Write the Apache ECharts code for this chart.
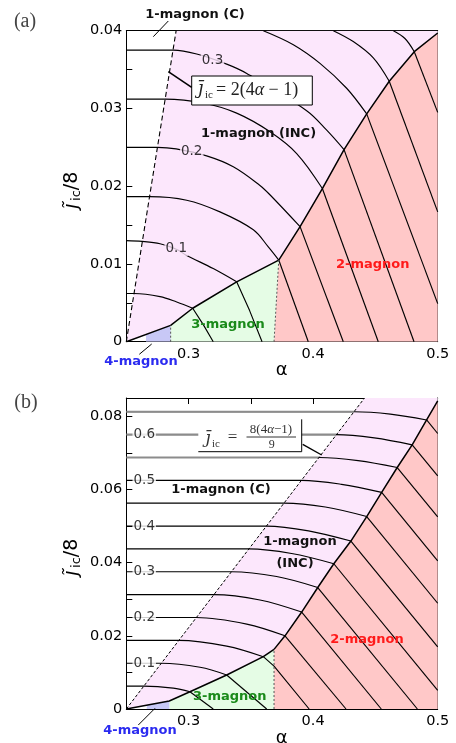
<!DOCTYPE html>
<html><head><meta charset="utf-8">
<script src="https://cdn.jsdelivr.net/npm/echarts@6/dist/echarts.min.js"></script>
<style>html,body{margin:0;padding:0;background:#fff}#c{width:456px;height:743px}</style>
</head><body><div id="c"></div>
<script>
// ---------------- axes ----------------
const X_MIN = 0.25, X_MAX = 0.5, X_STEP = 0.05;
const YA_MAX = 0.04, YA_STEP = 0.005;
const YB_MAX = 0.085, YB_STEP = 0.01;

// ---------------- panel (a) ----------------
const A_dashed = [[0.25,0],[0.29,0.04]];
const A_bnd2 = [[0.3724,0.0105],[0.3895,0.0148],[0.4074,0.0197],[0.4248,0.0247],[0.4430,0.0293],[0.4611,0.0335],[0.4812,0.0373],[0.5,0.0397]];
const A_bnd3 = [[0.25,0],[0.2856,0.0021],[0.3033,0.0043],[0.3386,0.0077],[0.3724,0.0105]];
const A_dot32 = [[0.3686,0],[0.3724,0.0105]];
const A_dot43 = [[0.2856,0],[0.2856,0.0021]];
const A_blue = [[0.2658,0],[0.2658,0.0009],[0.2856,0.0021],[0.2856,0]];

const A_c05 = [[0.25,0.0062],[0.2563,0.0062],[0.2771,0.0058],[0.2905,0.0051],[0.3033,0.0043]];
const A_t05 = [[0.3033,0.0043],[0.3118,0.0022],[0.3198,0]];
const A_c10 = [[0.25,0.0130],[0.2626,0.0129],[0.2771,0.0126],[0.2901,0.0119],[0.2985,0.0111],[0.3198,0.0094],[0.3386,0.0077]];
const A_t10 = [[0.3386,0.0077],[0.3490,0.0040],[0.3590,0]];
const A_c15 = [[0.25,0.01865],[0.2687,0.01865],[0.2985,0.0182],[0.3252,0.0167],[0.3520,0.0144],[0.3640,0.0122],[0.3724,0.0105]];
const A_t15 = [[0.3724,0.0105],[0.3961,0]];
const A_c20 = [[0.25,0.0250],[0.2750,0.0250],[0.2900,0.0248],[0.3145,0.0239],[0.3359,0.0225],[0.3573,0.0201],[0.3653,0.0189],[0.3895,0.0148]];
const A_t20 = [[0.3895,0.0148],[0.4242,0]];
const A_c25 = [[0.25,0.0312],[0.2812,0.0312],[0.3118,0.0307],[0.3386,0.0294],[0.3654,0.0270],[0.3868,0.0242],[0.4074,0.0197]];
const A_t25 = [[0.4074,0.0197],[0.4523,0]];
const A_c30 = [[0.25,0.0375],[0.2877,0.0375],[0.3065,0.0370],[0.3306,0.0357],[0.3467,0.0345],[0.3948,0.0297],[0.4109,0.0272],[0.4248,0.0247]];
const A_t30 = [[0.4248,0.0247],[0.4810,0]];
const A_c35 = [[0.3600,0.0400],[0.3841,0.0382],[0.4055,0.0358],[0.4269,0.0326],[0.4430,0.0293]];
const A_t35 = [[0.4430,0.0293],[0.5,0.0049]];
const A_c40 = [[0.4162,0.0400],[0.4322,0.0386],[0.4483,0.0365],[0.4611,0.0335]];
const A_t40 = [[0.4611,0.0335],[0.5,0.0167]];
const A_c45 = [[0.4644,0.0400],[0.4737,0.0390],[0.4812,0.0373]];
const A_t45 = [[0.4812,0.0373],[0.5,0.0295]];

const A_lblText = ['0.1','0.2','0.3'];
const A_lblPos = [[0.2901,0.0120],[0.3025,0.0244],[0.3192,0.0362]];

// ---------------- panel (b) ----------------
const B_dashed = [[0.25,0],[0.44125,0.085]];
const B_bnd2 = [[0.3686,0.0163],[0.3774,0.0200],[0.3908,0.0265],[0.4037,0.0332],[0.4166,0.0397],[0.4303,0.0459],[0.4430,0.0526],[0.4550,0.0592],[0.4675,0.0660],[0.4795,0.0722],[0.4911,0.0790],[0.5,0.0842]];
const B_bnd3 = [[0.25,0],[0.2845,0.0022],[0.3011,0.0047],[0.3306,0.0093],[0.3600,0.0143],[0.3686,0.0163]];
const B_dot32 = [[0.3686,0],[0.3686,0.0163]];
const B_blue = [[0.2664,0],[0.2664,0.0010],[0.2845,0.0022],[0.2845,0]];

const B_c05 = [[0.25,0.00625],[0.2641,0.00625],[0.2877,0.0057],[0.3011,0.0047]];
const B_t05 = [[0.3011,0.0047],[0.3198,0]];
const B_c10 = [[0.25,0.0125],[0.2781,0.0125],[0.3092,0.0114],[0.3306,0.0093]];
const B_t10 = [[0.3306,0.0093],[0.3627,0]];
const B_c15 = [[0.25,0.01875],[0.2922,0.01875],[0.3306,0.0172],[0.3600,0.0143]];
const B_t15 = [[0.3600,0.0143],[0.3686,0.0117],[0.3968,0]];
const B_c20 = [[0.25,0.025],[0.3063,0.025],[0.3467,0.0232],[0.3774,0.0200]];
const B_t20 = [[0.3774,0.0200],[0.4264,0]];
const B_c25 = [[0.25,0.03125],[0.3203,0.03125],[0.3573,0.0298],[0.3908,0.0265]];
const B_t25 = [[0.3908,0.0265],[0.4547,0]];
const B_c30 = [[0.25,0.0375],[0.3344,0.0375],[0.3707,0.0362],[0.4037,0.0332]];
const B_t30 = [[0.4037,0.0332],[0.4837,0]];
const B_c35 = [[0.25,0.04375],[0.3484,0.04375],[0.3827,0.0425],[0.4166,0.0397]];
const B_t35 = [[0.4166,0.0397],[0.5,0.0051]];
const B_c40 = [[0.25,0.05],[0.3625,0.05],[0.3963,0.0487],[0.4303,0.0459]];
const B_t40 = [[0.4303,0.0459],[0.5,0.0170]];
const B_c45 = [[0.25,0.05625],[0.3766,0.05625],[0.4098,0.0552],[0.4430,0.0526]];
const B_t45 = [[0.4430,0.0526],[0.5,0.0289]];
const B_c50 = [[0.25,0.0625],[0.3906,0.0625],[0.4228,0.0614],[0.4550,0.0592]];
const B_t50 = [[0.4550,0.0592],[0.5,0.0405]];
const B_c55 = [[0.25,0.06875],[0.4047,0.06875],[0.4361,0.0679],[0.4675,0.0660]];
const B_t55 = [[0.4675,0.0660],[0.5,0.0525]];
const B_c60 = [[0.25,0.075],[0.41875,0.075],[0.4491,0.0741],[0.4795,0.0722]];
const B_t60 = [[0.4795,0.0722],[0.5,0.0637]];
const B_c65 = [[0.25,0.08125],[0.4328,0.08125],[0.4620,0.0806],[0.4911,0.0790]];
const B_t65 = [[0.4911,0.0790],[0.5,0.0753]];
const B_gray = [B_c55.slice(0,2), B_c60.slice(0,2), B_c65.slice(0,2)];

const B_lblText = ['0.1','0.2','0.3','0.4','0.5','0.6'];
const B_lblPos = [[0.2644,0.0125],[0.2644,0.025],[0.2644,0.0375],[0.2644,0.05],[0.2644,0.0625],[0.2644,0.075]];

// ---------------- styles ----------------
const C_INC = '#fce7fc', C_2 = '#ffc8c8', C_3 = '#e5fce5', C_4 = '#c8c8f6';
const SANS = 'DejaVu Sans', SERIF = 'Liberation Serif';
const W_C = 1.15, W_B = 1.5;

function poly(pts, color, gi) {
  return {type:'custom', coordinateSystem:'cartesian2d', xAxisIndex:gi*2, yAxisIndex:gi*2,
    silent:true, z:1, data:[pts[0]], clip:true,
    renderItem: (params, api) => ({type:'polygon', shape:{points: pts.map(p => api.coord(p))},
      style:{fill: color, stroke: null}})};
}
function line(pts, gi, width, opts) {
  const o = opts || {};
  return {type:'line', xAxisIndex:gi*2, yAxisIndex:gi*2, data:pts, symbol:'none', silent:true,
    smooth: o.smooth || false, z: o.z || 2, clip: true,
    lineStyle:{color: o.color || '#000', width: width, type: o.type || 'solid', cap:'butt'}};
}
function labels(texts, pos, gi, bg) {
  return {type:'scatter', xAxisIndex:gi*2, yAxisIndex:gi*2, symbolSize:1, silent:true, z:6,
    itemStyle:{color:'rgba(0,0,0,0)'},
    data: pos.map((p,i) => ({value:p, name:texts[i]})),
    label:{show:true, position:'inside', formatter:'{b}', fontFamily:SANS, fontSize:13.5, color:'#000',
      backgroundColor:bg, padding:[1,1,0,1]}};
}
function rev(a){ return a.slice().reverse(); }

const series = [];
// fills (a)
series.push(poly([].concat(A_dashed, [[X_MAX,YA_MAX]], rev(A_bnd2), rev(A_bnd3)), C_INC, 0));
series.push(poly([].concat(A_bnd2, [[X_MAX,0]], [A_dot32[0]]), C_2, 0));
series.push(poly([].concat(A_dot43, A_bnd3.slice(2), [A_dot32[0]]), C_3, 0));
series.push(poly(A_blue, C_4, 0));
// fills (b)
series.push(poly([].concat(B_dashed, [[X_MAX,YB_MAX]], rev(B_bnd2), rev(B_bnd3)), C_INC, 1));
series.push(poly([].concat(B_bnd2, [[X_MAX,0]], [B_dot32[0]]), C_2, 1));
series.push(poly([].concat([[0.2845,0]], B_bnd3.slice(1), [B_dot32[0]]), C_3, 1));
series.push(poly(B_blue, C_4, 1));

// contours (a)
[A_c05,A_c10,A_c15,A_c20,A_c25,A_c30,A_c35,A_c40,A_c45].forEach(c => series.push(line(c, 0, W_C, {smooth:0.35})));
[A_t05,A_t10,A_t15,A_t20,A_t25,A_t30,A_t35,A_t40,A_t45].forEach(c => series.push(line(c, 0, W_C)));
// contours (b)
[B_c05,B_c10,B_c15,B_c20,B_c25,B_c30,B_c35,B_c40,B_c45,B_c50,B_c55,B_c60,B_c65].forEach(c => series.push(line(c, 1, W_C, {smooth:0.35})));
[B_t05,B_t10,B_t15,B_t20,B_t25,B_t30,B_t35,B_t40,B_t45,B_t50,B_t55,B_t60,B_t65].forEach(c => series.push(line(c, 1, W_C)));
B_gray.forEach(c => series.push(line(c, 1, 2, {color:'#8c8c8c', z:3})));

// boundaries
series.push(line(A_bnd2, 0, W_B, {z:4}));
series.push(line(A_bnd3, 0, W_B, {z:4}));
series.push(line(A_dot32, 0, 1, {z:4, type:[2,2], color:'#555'}));
series.push(line(A_dot43, 0, 1, {z:4, type:[2,2], color:'#555'}));
series.push(line(A_dashed, 0, 1.1, {z:4, type:[5,3]}));
series.push(line(B_bnd2, 1, W_B, {z:4}));
series.push(line(B_bnd3, 1, W_B, {z:4}));
series.push(line(B_dot32, 1, 1, {z:4, type:[2,2], color:'#555'}));
series.push(line(B_dashed, 1, 1, {z:4, type:[3,2]}));

series.push(labels(A_lblText, A_lblPos, 0, C_INC));
series.push(labels(B_lblText, B_lblPos, 1, '#fff'));

// ---------------- axes ----------------
const near = (v, s) => Math.abs(v/s - Math.round(v/s)) < 1e-6;
function xAx(gi, pos) {
  return {type:'value', gridIndex:gi, position:pos, min:X_MIN, max:X_MAX, interval:X_STEP,
    axisLine:{show:true, onZero:false, lineStyle:{color:'#000', width:1}},
    axisTick:{show:true, inside:true, length:6, lineStyle:{color:'#000', width:1}},
    splitLine:{show:false},
    axisLabel:{show: pos === 'bottom', margin:5, color:'#000', fontFamily:SANS, fontSize:14.5,
      formatter: v => near(v, 0.1) ? v.toFixed(1) : ''}};
}
function yAx(gi, pos, max, step, lblStep) {
  return {type:'value', gridIndex:gi, position:pos, min:0, max:max, interval:step,
    axisLine:{show:true, onZero:false, lineStyle:{color:'#000', width:1}},
    axisTick:{show:true, inside:true, length:6, lineStyle:{color:'#000', width:1}},
    splitLine:{show:false},
    axisLabel:{show: pos === 'left', margin:4, color:'#000', fontFamily:SANS, fontSize:14.5,
      formatter: v => (Math.abs(v) < 1e-12 ? '0' : (near(v, lblStep) ? v.toFixed(2) : ''))}};
}

// ---------------- annotations ----------------
const bold = (t, x, y, color) => ({type:'text', x:x, y:y, z:50,
  style:{text:t, fontFamily:SANS, fontWeight:'bold', fontSize:13, fill:color, align:'center', verticalAlign:'middle'}});
const txt = (t, x, y, size, fam, extra) => ({type:'text', x:x, y:y, z:50,
  style:Object.assign({text:t, fontFamily:fam, fontSize:size, fill:'#000', align:'center', verticalAlign:'middle'}, extra||{})});
const seg = (x1,y1,x2,y2,w) => ({type:'line', z:50, shape:{x1,y1,x2,y2}, style:{stroke:'#000', lineWidth:w||1}});
function yName(cx, cy) {
  return {type:'group', x:cx, y:cy, rotation:Math.PI/2, z:50, children:[
    txt('\u0237\u0303', -13, 0, 19, SANS, {fontStyle:'italic'}),
    txt('ic', -2.5, 5, 13, SANS),
    txt('/8', 12, 0, 19, SANS)
  ]};
}
const rich = {i:{fontFamily:SERIF, fontStyle:'italic', fontSize:18, fill:'#222'}, n:{fontFamily:SERIF, fontSize:18, fill:'#222'}};
const graphic = [
  // panel (a)
  txt('(a)', 25, 22, 20, SERIF, {fill:'#444'}),
  bold('1-magnon (C)', 195, 15, '#111'),
  seg(168.3, 21, 153.3, 36.7),
  {type:'rect', z:49, shape:{x:191.7, y:76, width:120.6, height:29}, style:{fill:'#fff', stroke:'#000', lineWidth:1}},
  txt('\u0237\u0304', 200.5, 89, 18, 'DejaVu Serif', {fontStyle:'italic', fill:'#222'}),
  txt('ic', 209, 95, 11, SERIF, {fill:'#222'}),
  {type:'text', x:216, y:90, z:50, style:{text:'{n|= 2(4}{i|\u03b1}{n| \u2212 1)}', rich:rich, align:'left', verticalAlign:'middle'}},
  seg(191.7, 87.3, 168.3, 71.7, 1.6),
  bold('1-magnon (INC)', 258.5, 134, '#111'),
  bold('2-magnon', 372.7, 265, '#ff1a1a'),
  bold('3-magnon', 228, 325, '#1a8a1a'),
  bold('4-magnon', 141, 362, '#2b2bf0'),
  seg(139.3, 354.3, 151.7, 344),
  yName(72, 193),
  txt('\u03b1', 281.7, 370, 18, SANS),
  // panel (b)
  txt('(b)', 26, 403, 20, SERIF, {fill:'#444'}),
  {type:'rect', z:49, shape:{x:198.3, y:419.3, width:103.4, height:32.4}, style:{fill:'#fff', stroke:null}},
  seg(198.3, 451.7, 301.7, 451.7),
  seg(301.7, 419.3, 301.7, 451.7),
  txt('\u0237\u0304', 208, 439, 17, 'DejaVu Serif', {fontStyle:'italic', fill:'#333'}),
  txt('ic', 216, 444, 11, SERIF, {fill:'#333'}),
  txt('=', 232.5, 438, 17, SERIF, {fill:'#333'}),
  {type:'text', x:271, y:430, z:50, style:{text:'{n|8(4}{i|\u03b1}{n|\u22121)}', rich:{i:{fontFamily:SERIF, fontStyle:'italic', fontSize:13, fill:'#333'}, n:{fontFamily:SERIF, fontSize:13, fill:'#333'}}, align:'center', verticalAlign:'middle'}},
  seg(246.5, 437, 296, 437, 0.8),
  txt('9', 271.7, 444.5, 12, SERIF, {fill:'#333'}),
  seg(302.7, 444.3, 321.7, 455, 1.4),
  bold('1-magnon (C)', 221, 490, '#111'),
  bold('1-magnon', 300, 542, '#111'),
  bold('(INC)', 295, 564, '#111'),
  bold('2-magnon', 367, 640, '#ff1a1a'),
  bold('3-magnon', 229.7, 696.7, '#1a8a1a'),
  bold('4-magnon', 140, 731, '#2b2bf0'),
  seg(138.3, 725, 155, 708.3),
  yName(72, 560),
  txt('\u03b1', 281.7, 738, 18, SANS)
];

const chart = echarts.init(document.getElementById('c'), null, {renderer:'canvas'});
chart.setOption({
  animation:false,
  backgroundColor:'#fff',
  grid:[{left:126.3, top:30.7, width:311.4, height:311},
        {left:126.3, top:398, width:311.4, height:311}],
  xAxis:[xAx(0,'bottom'), xAx(0,'top'), xAx(1,'bottom'), xAx(1,'top')],
  yAxis:[yAx(0,'left',YA_MAX,YA_STEP,0.01), yAx(0,'right',YA_MAX,YA_STEP,0.01),
         yAx(1,'left',YB_MAX,YB_STEP,0.02), yAx(1,'right',YB_MAX,YB_STEP,0.02)],
  series: series,
  graphic: graphic
});
</script></body></html>
